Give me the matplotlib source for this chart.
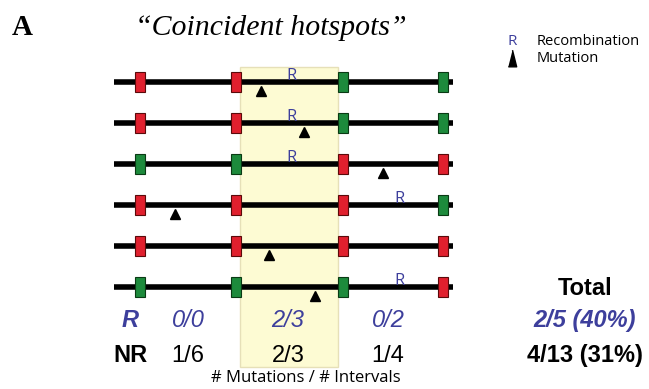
import matplotlib
matplotlib.use('Agg')
import matplotlib.pyplot as plt
from matplotlib.patches import Rectangle

# Datos del esquema (coordenadas en unidades de la figura, 649 x 389)
loci_x = [140, 236, 343, 443]
filas_y = [82, 123, 164, 205, 246, 287]
colores_filas = [
    ['r', 'r', 'g', 'g'],
    ['r', 'r', 'g', 'g'],
    ['g', 'g', 'r', 'r'],
    ['r', 'r', 'r', 'g'],
    ['r', 'r', 'r', 'r'],
    ['g', 'g', 'g', 'r'],
]
mutaciones_x = [261, 304, 383, 175, 269, 315]
recomb_x = [291, 291, 291, 400, None, 400]

intervalos_x = [188, 288, 388]
r_conteos = ['0/0', '2/3', '0/2']
nr_conteos = ['1/6', '2/3', '1/4']
total_r = '2/5 (40%)'
total_nr = '4/13 (31%)'

ROJO = '#e0202e'
VERDE = '#1d8a3c'
AZUL = '#3d3f9c'
MAPA = {'r': (ROJO, '#5a0a0a'), 'g': (VERDE, '#0a3a14')}

fig = plt.figure(figsize=(6.49, 3.89), dpi=100, facecolor='white')
ax = fig.add_axes([0, 0, 1, 1])
ax.set_xlim(0, 649)
ax.set_ylim(389, 0)
ax.axis('off')

# Intervalo central resaltado
ax.add_patch(Rectangle((loci_x[1] + 4, 67), loci_x[2] - loci_x[1] - 9, 300,
                       facecolor='#fdfbd3', edgecolor='#e6e0b8', linewidth=1, zorder=0))

for i, y in enumerate(filas_y):
    ax.plot([114, 453], [y, y], color='black', linewidth=4, solid_capstyle='butt', zorder=2)
    for x, c in zip(loci_x, colores_filas[i]):
        fc, ec = MAPA[c]
        ax.add_patch(Rectangle((x - 4.75, y - 10), 9.5, 20, facecolor=fc,
                               edgecolor=ec, linewidth=0.8, zorder=3))
    ax.plot(mutaciones_x[i], y + 8.5, marker='^', markersize=7.5, color='black',
            linestyle='none', zorder=1.5)
    if recomb_x[i] is not None:
        ax.text(recomb_x[i], y - 2, 'R', color=AZUL, fontsize=12, family='Open Sans',
                ha='center', va='baseline', zorder=4)

# Títulos
ax.text(12, 35, 'A', fontsize=21, fontweight='bold', family='Liberation Serif',
        ha='left', va='baseline')
ax.text(271, 35, '\u201cCoincident hotspots\u201d', fontsize=21.5, style='italic',
        family='Liberation Serif', ha='center', va='baseline')

# Leyenda
ax.text(512, 41, 'R', color=AZUL, fontsize=11, family='Open Sans', ha='center', va='center')
ax.text(537, 41, 'Recombination', fontsize=10.5, family='Open Sans', ha='left', va='center')
ax.plot(512, 58, marker=[(-0.5, -1), (0.5, -1), (0, 1)], markersize=12, color='black',
        linestyle='none')
ax.text(537, 58, 'Mutation', fontsize=10.5, family='Open Sans', ha='left', va='center')

# Conteos
ax.text(130, 327, 'R', color=AZUL, fontsize=17, fontweight='bold', style='italic',
        family='Liberation Sans', ha='center', va='baseline')
ax.text(130, 362, 'NR', color='black', fontsize=17, fontweight='bold',
        family='Liberation Sans', ha='center', va='baseline')
for x, rc, nc in zip(intervalos_x, r_conteos, nr_conteos):
    ax.text(x, 327, rc, color=AZUL, fontsize=17, style='italic',
            family='Liberation Sans', ha='center', va='baseline')
    ax.text(x, 362, nc, color='black', fontsize=17,
            family='Liberation Sans', ha='center', va='baseline')

ax.text(306, 378, '# Mutations / # Intervals', fontsize=12, family='Open Sans',
        ha='center', va='center')

ax.text(585, 295, 'Total', fontsize=17, fontweight='bold', family='Liberation Sans',
        ha='center', va='baseline')
ax.text(585, 327, total_r, color=AZUL, fontsize=17, fontweight='bold', style='italic',
        family='Liberation Sans', ha='center', va='baseline')
ax.text(585, 362, total_nr, fontsize=17, fontweight='bold', family='Liberation Sans',
        ha='center', va='baseline')

fig.savefig('out.png', dpi=100, facecolor='white')
plt.close(fig)
